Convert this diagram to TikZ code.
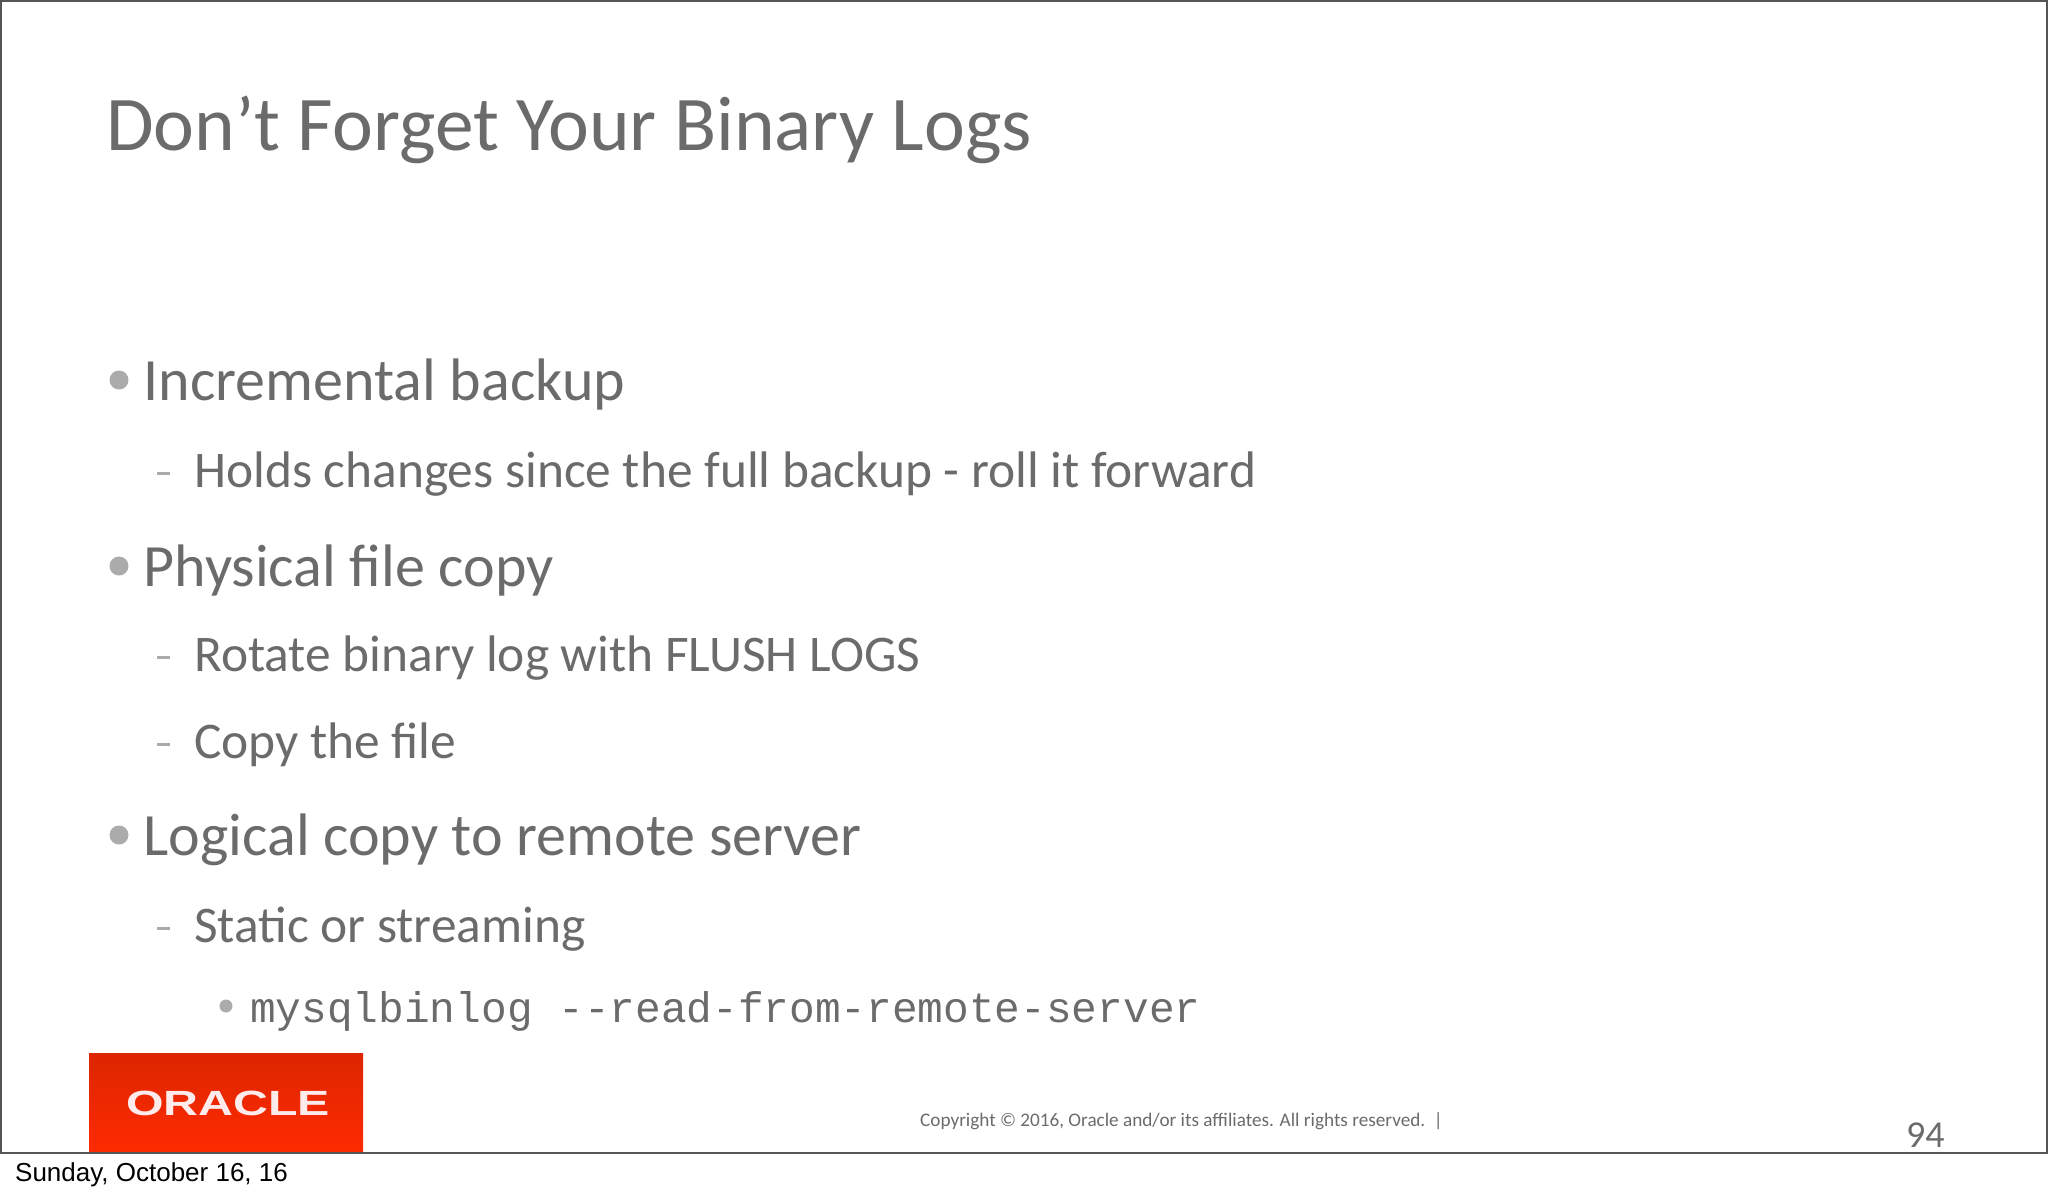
\documentclass[tikz,border=0pt]{standalone}
\usepackage{fontspec}
\setmainfont{Carlito}
\newfontfamily\helvfont{Liberation Sans}
\newfontfamily\codefont{Liberation Mono}
\definecolor{slidegray}{HTML}{6B6B6B}
\definecolor{bulletgray}{HTML}{ABABAB}
\definecolor{framegray}{HTML}{555555}
\definecolor{oracletop}{HTML}{DC2600}
\definecolor{oraclebottom}{HTML}{FF2A00}
\tikzset{
    slidetext/.style={anchor=base west, inner sep=0pt, text=slidegray},
    titletext/.style={slidetext, font=\fontsize{77.4}{77.4}\selectfont},
    toptext/.style={slidetext, font=\fontsize{60}{60}\selectfont},
    subtext/.style={slidetext, font=\fontsize{51.4}{51.4}\selectfont},
    dotmark/.style={circle, fill=bulletgray, inner sep=0pt, minimum size=19pt},
    dashmark/.style={fill=bulletgray, inner sep=0pt, minimum width=13pt, minimum height=3pt},
}
\begin{document}
\begin{tikzpicture}[x=1pt, y=-1pt]
    \useasboundingbox (0, 0) rectangle (2048, 1195);
    \draw[framegray, line width=1.5pt] (0.8, 1153) -- (0.8, 0.8) -- (2047.2, 0.8) -- (2047.2, 1153);
    \node[titletext] (title) at (106, 150) {Don’t Forget Your Binary Logs};
    \node[dotmark] (dota) at (119, 380) {};
    \node[toptext] (incremental) at (143.5, 400) {Incremental backup};
    \node[dashmark] (dasha) at (163, 473) {};
    \node[subtext] (holds) at (194, 487) {Holds changes since the full backup - roll it forward};
    \node[dotmark] (dotb) at (119, 566) {};
    \node[toptext] (physical) at (143.5, 586) {Physical file copy};
    \node[dashmark] (dashb) at (163, 657) {};
    \node[subtext] (rotate) at (194, 671) {Rotate binary log with FLUSH LOGS};
    \node[dashmark] (dashc) at (163, 744) {};
    \node[subtext] (copy) at (194, 758) {Copy the file};
    \node[dotmark] (dotc) at (119, 835) {};
    \node[toptext] (logical) at (143.5, 855) {Logical copy to remote server};
    \node[dashmark] (dashd) at (163, 928) {};
    \node[subtext] (static) at (194, 942) {Static or streaming};
    \node[dotmark, minimum size=13pt] (dotd) at (226, 1006) {};
    \node[slidetext, font=\codefont\fontsize{42.8}{42.8}\selectfont] (binlog) at (250, 1022) {mysqlbinlog --read-from-remote-server};
    % logo
    \node[top color=oracletop, bottom color=oraclebottom, inner sep=0pt, minimum width=274pt, minimum height=100pt] (logo) at (226, 1103) {};
    \node[text=white!92!red, inner sep=0pt, xscale=1.38, font=\helvfont\bfseries\fontsize{35}{35}\selectfont] (oracle) at (228, 1103) {ORACLE};
    \draw[framegray, line width=2pt] (0, 1153) -- (2048, 1153);
    \node[slidetext, font=\fontsize{19.2}{19.2}\selectfont] (copyright) at (920, 1126) {Copyright © 2016, Oracle and/or its affiliates. All rights reserved.\ \ |};
    \node[slidetext, font=\fontsize{38}{38}\selectfont] (pagenum) at (1906, 1147) {94};
    \node[anchor=base west, inner sep=0pt, text=black, font=\helvfont\fontsize{26}{26}\selectfont] (date) at (15, 1181) {Sunday, October 16, 16};
\end{tikzpicture}
\end{document}
